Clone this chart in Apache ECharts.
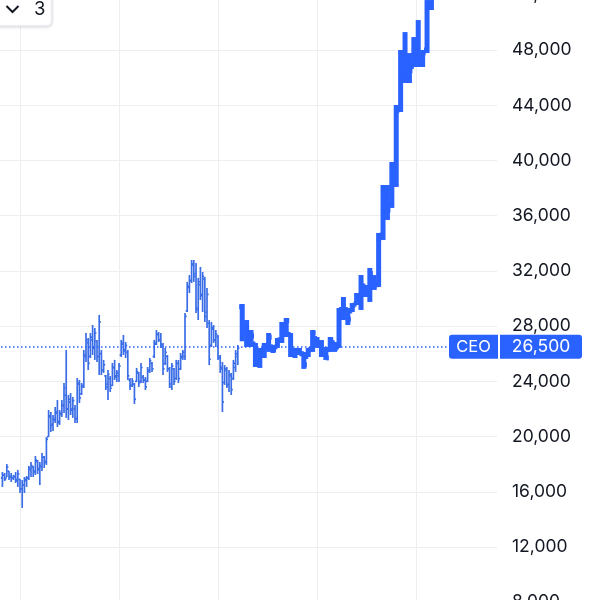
<!DOCTYPE html>
<html>
<head>
<meta charset="utf-8">
<script src="https://cdn.jsdelivr.net/npm/echarts@6/dist/echarts.min.js"></script>
<style>html,body{margin:0;padding:0;background:#fff;}#c{width:600px;height:600px;}</style>
</head>
<body>
<div id="c"></div>
<script>
// Older period, OHLC [open, high, low, close]
var olderBars = [
[17000,17430,16350,17200],[17200,17360,16780,16900],[17000,18010,17070,17800],[17500,17500,16850,17100],
[17100,17360,16710,17000],[17000,17220,16850,17100],[17100,17430,16640,16800],[16900,17580,16350,17300],
[16900,16930,15910,16200],[16200,16850,14830,16500],[16500,17070,15910,16900],[16800,17140,16350,17000],
[17000,17870,16850,17700],[17600,18160,17070,17900],[17800,17870,17070,17400],[17500,18590,17220,18300],
[18200,18300,17290,17600],[17700,18160,16490,17900],[17800,18810,17510,18500],[18500,18590,17720,18100],
[18200,19970,17940,19800],[20000,21920,19970,21500],[21400,21780,20330,20800],[20900,21560,20400,21300],
[21200,22140,20980,21800],[21700,22650,20690,21000],[21100,21920,20840,21700],[21600,22650,21420,22300],
[22200,23880,21710,23500],[23000,26270,21350,22000],[22000,23010,21200,22700],[22500,23150,21560,21900],
[22000,22870,21350,22600],[22000,22290,20980,21300],[21300,24240,20980,23900],[23800,24100,22430,22800],
[23100,23880,23010,23600],[23700,26270,23520,25900],[25800,27500,25400,27000],[26800,27140,24820,25300],
[25800,27500,25690,27200],[27000,28080,25910,26400],[26500,27860,25550,27500],[26900,27000,25400,25800],
[25800,28810,24460,28300],[26000,26270,24460,24800],[24800,25550,24610,25200],[24400,24460,23370,23600],
[23800,24820,22650,24500],[24200,24390,23230,23500],[23700,25330,23660,25000],[25000,25550,24100,24400],
[24300,24820,23950,24600],[24400,25330,23950,25100],[25900,27000,25760,26800],[26700,27360,25910,26200],
[26300,26850,25690,26600],[26100,26270,24100,24400],[24100,24240,23370,23700],[23700,24240,23590,24000],
[23800,23880,22360,22700],[24000,24970,23950,24700],[24600,24680,23590,23900],[24000,25330,23880,25000],
[24300,24460,23880,24100],[24100,24310,23370,23600],[24000,25040,23950,24800],[24700,25690,24610,25500],
[25300,25400,24680,24900],[25800,27000,25690,26800],[26700,27720,26630,27400],[27400,27570,26850,27000],
[27000,27500,26420,26700],[26600,26780,24460,24900],[25300,26420,25180,26100],[25800,25910,24680,24900],
[24900,25040,23520,23800],[23600,25330,23370,25100],[24900,24970,23740,24000],[24200,25550,24100,25300],
[25300,25550,23880,24200],[24900,26050,24820,25800],[25700,26270,25550,26100],[25800,28950,25550,28700],
[29100,31200,29020,30900],[30800,31700,30400,31300],[31300,32790,31120,32500],[32400,32790,31200,31600],
[31800,32570,28950,29300],[29200,31490,28440,31200],[31000,32280,29890,30200],[30300,31920,29020,31600],
[31400,31560,28300,28700],[29000,30760,27860,30300],[28200,28440,25180,25600],[26600,28300,26490,27900],
[27800,28080,26780,27000],[27000,27720,26490,27400],[27200,27360,25550,25800],[25700,25910,24610,24900],
[25000,25400,21780,22500],[23900,25180,23740,24900],[24800,25040,23520,23700],[23800,24820,23230,24500],
[24400,24610,23010,23400],[24200,25550,24100,25300],[25000,26270,24680,26000],[25800,26630,25180,26400]
];
// Recent period, OHLC [open, high, low, close]
var recentBars = [
[29400,29600,26900,27900],[27900,28440,26490,26900],[26900,27720,26490,27300],[26700,26780,25040,25300],
[25300,26420,24970,26100],[26000,26780,25690,26500],[26600,27500,26130,27200],[26500,26630,26050,26300],
[26500,27140,26420,27000],[27000,28300,26780,28000],[28000,28590,27210,28400],[27400,27500,25760,26000],
[26000,26420,25690,26200],[26200,26420,25910,26000],[26000,26130,24900,25200],[25800,26420,25760,26300],
[26300,27720,26130,27500],[27100,27210,26420,26600],[26700,26990,25760,26000],[26000,26490,25550,25700],
[26300,27210,26130,27000],[26800,26850,26130,26400],[26500,29310,26420,29200],[29000,30110,28440,29200],
[29200,29310,28080,28500],[29100,29670,29020,29500],[29600,30400,29530,30200],[29800,31700,29170,30900],
[30900,30980,30110,30400],[30300,32210,29750,31800],[31300,31700,30620,31000],[31000,34750,30840,34400],
[34600,38220,34240,37900],[37500,38220,35690,36400],[36800,39890,36560,39500],[38500,44020,38080,43600],
[43800,48000,43510,47800],[47600,49300,45610,46000],[46000,47780,45610,46500],[46800,48940,46770,48200],
[47500,50170,46770,47200],[47000,48000,46770,47800],[48000,51620,47780,51300],[51200,52700,50900,52200]
];
var priceTicks = [8000,12000,16000,20000,24000,28000,32000,36000,40000,44000,48000,52000];
var refLevel = 26500;
var refLabel = 'CEO';
var selectorText = '3';

var OLDER_START = 37, RECENT_START = 146, RECENT_STEP = 2;
var olderData = olderBars.map(function(b,i){return [OLDER_START+i].concat(b);});
var recentData = recentBars.map(function(b,i){return [RECENT_START+RECENT_STEP*i].concat(b);});

function ohlcRender(color, lw, tick){
  return function(params, api){
    var x=api.value(0);
    var pO=api.coord([x,api.value(1)]), pH=api.coord([x,api.value(2)]),
        pL=api.coord([x,api.value(3)]), pC=api.coord([x,api.value(4)]);
    var st={stroke:color,lineWidth:lw};
    return {type:'group',children:[
      {type:'line',shape:{x1:pH[0],y1:pH[1],x2:pL[0],y2:pL[1]},style:st},
      {type:'line',shape:{x1:pO[0]-tick,y1:pO[1],x2:pO[0],y2:pO[1]},style:st},
      {type:'line',shape:{x1:pC[0],y1:pC[1],x2:pC[0]+tick,y2:pC[1]},style:st}
    ]};
  };
}

var chart = echarts.init(document.getElementById('c'), null, {renderer:'canvas'});
var font = 'Inter, "Noto Sans", sans-serif';
var gridColor = '#eceef2';
chart.setOption({
  animation:false,
  backgroundColor:'#ffffff',
  grid:{left:-79,right:103,top:-5.2,bottom:-2.2,containLabel:false,outerBoundsMode:'none'},
  xAxis:{type:'value',min:0,max:261.8,interval:45,
    axisLine:{show:false},axisTick:{show:false},axisLabel:{show:false},
    splitLine:{show:true,lineStyle:{color:[gridColor,gridColor,gridColor,gridColor,gridColor,gridColor,'rgba(0,0,0,0)'],width:1}}},
  yAxis:{type:'value',position:'right',min:priceTicks[0],max:priceTicks[priceTicks.length-1],interval:4000,
    axisLine:{show:false},axisTick:{show:false},
    axisLabel:{show:true,margin:15,color:'#131722',fontSize:17.5,fontFamily:font,align:'left',
      formatter:function(v){return v.toLocaleString('en-US');}},
    splitLine:{show:true,lineStyle:{color:gridColor,width:1}}},
  series:[
    {type:'custom',clip:true,renderItem:ohlcRender('#3a6de6',1.7,1.6),data:olderData,
      encode:{x:0,y:[1,2,3,4]},z:2},
    {type:'custom',clip:true,renderItem:ohlcRender('#2962ff',5,3),data:recentData,
      encode:{x:0,y:[1,2,3,4]},z:3,
      markLine:{silent:true,symbol:['none','none'],animation:false,
        lineStyle:{color:'#2962ff',type:[1.5,2.5],width:1.5},
        label:{show:true,position:'end',distance:-48,
          formatter:'{a|'+refLabel+'}{g|}{b|'+refLevel.toLocaleString('en-US')+'}',
          rich:{
            a:{backgroundColor:'#2962ff',color:'#fff',fontSize:16.5,fontFamily:font,width:49,height:24,lineHeight:24,align:'center',borderRadius:[3,0,0,3]},
            g:{width:2,height:24},
            b:{backgroundColor:'#2962ff',color:'#fff',fontSize:17.5,fontFamily:font,width:82,height:24,lineHeight:24,align:'center',borderRadius:[0,3,3,0]}
          }},
        data:[{yAxis:refLevel}]}}
  ],
  graphic:[
    {type:'rect',shape:{x:-10,y:-10,width:62,height:36,r:5},
      style:{fill:'#fff',stroke:'#e0e3eb',lineWidth:1,shadowBlur:3,shadowColor:'rgba(0,0,0,0.12)',shadowOffsetY:1},z:100},
    {type:'polyline',shape:{points:[[6.5,6],[12.5,12],[18.5,6]]},style:{stroke:'#131722',lineWidth:2,fill:null},z:101},
    {type:'text',x:34,y:9,style:{text:selectorText,fontSize:18.5,fontFamily:font,fill:'#131722',verticalAlign:'middle'},z:101}
  ]
});
</script>
</body>
</html>
